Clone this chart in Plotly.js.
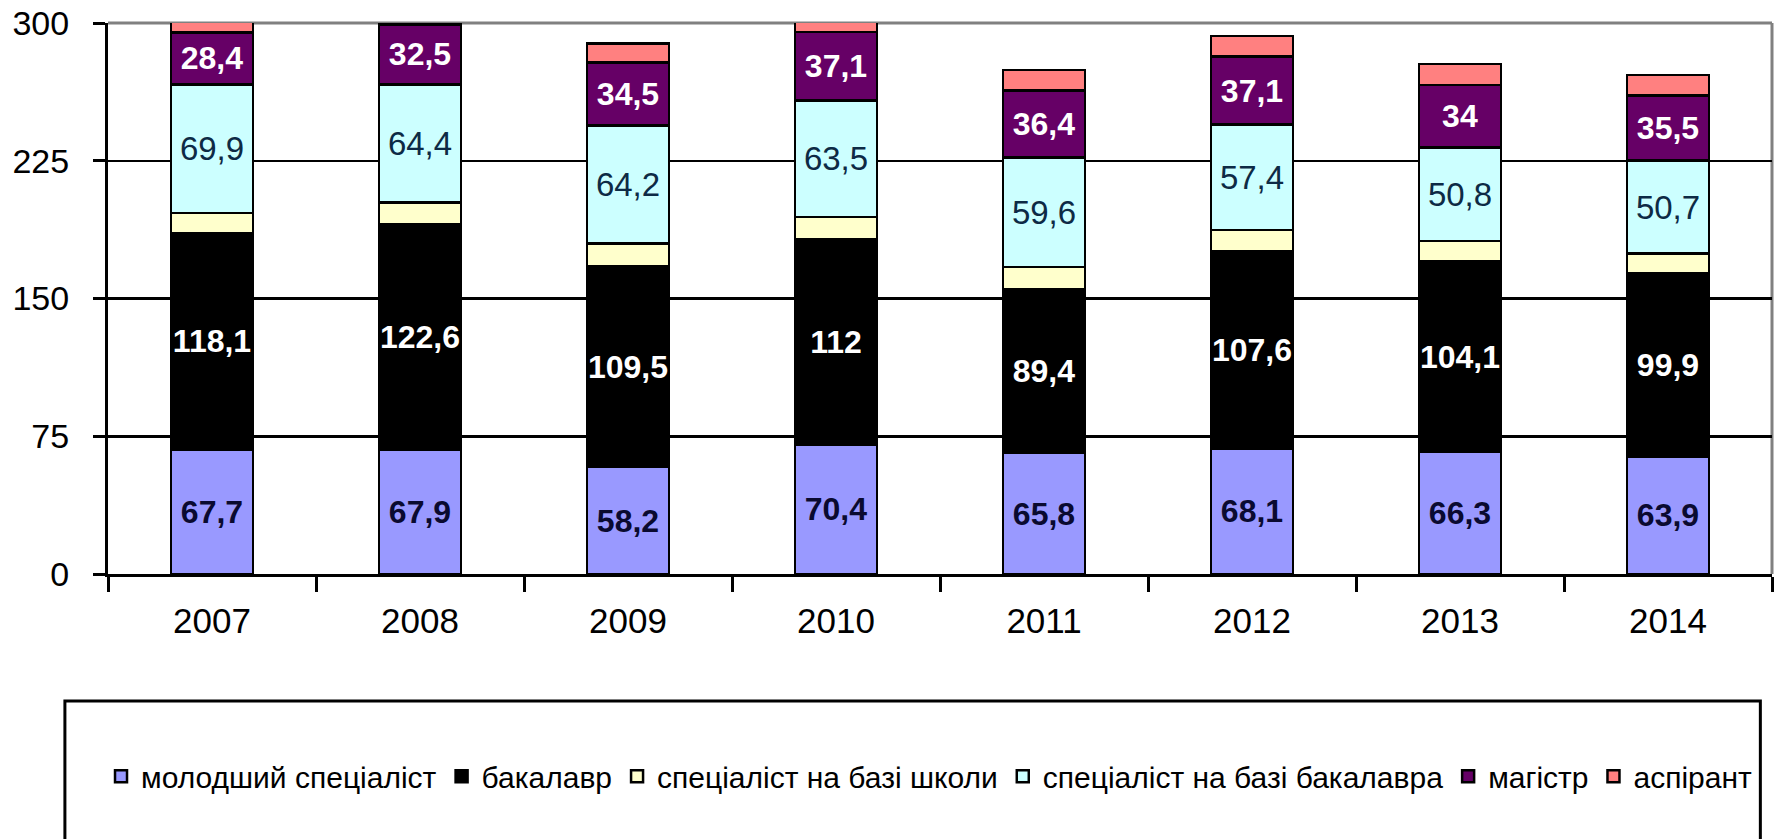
<!DOCTYPE html>
<html>
<head>
<meta charset="utf-8">
<script src="https://cdn.plot.ly/plotly-3.0.1.min.js"></script>
<style>html,body{margin:0;padding:0;background:#fff;}#chart{width:1781px;height:839px;}</style>
</head>
<body>
<div id="chart"></div>
<script>
const years = ['2007', '2008', '2009', '2010', '2011', '2012', '2013', '2014'];
const seriesNames = ['молодший спеціаліст', 'бакалавр', 'спеціаліст на базі школи', 'спеціаліст на базі бакалавра', 'магістр', 'аспірант'];
const molodshyi = [67.7, 67.9, 58.2, 70.4, 65.8, 68.1, 66.3, 63.9];
const bakalavr = [118.1, 122.6, 109.5, 112, 89.4, 107.6, 104.1, 99.9];
const shkoly = [10.8, 11.7, 12.2, 12.0, 12.0, 11.6, 11.0, 10.6];
const naBaziBakalavra = [69.9, 64.4, 64.2, 63.5, 59.6, 57.4, 50.8, 50.7];
const mahistr = [28.4, 32.5, 34.5, 37.1, 36.4, 37.1, 34, 35.5];
const aspirant = [10.5, 10.5, 10.3, 10.8, 11.2, 11.0, 11.6, 11.0];
const yTicks = [0, 75, 150, 225, 300];

const fmt = v => String(v).replace('.', ',');
const FONT = 'Liberation Sans, Arial, sans-serif';

function bar(name, vals, color, showText, textColor, bold) {
  return {
    type: 'bar', name: name, x: years, y: vals,
    marker: {color: color, line: {color: '#000', width: 2.5}},
    text: showText ? vals.map(fmt) : undefined,
    textposition: showText ? 'inside' : 'none',
    insidetextanchor: 'middle',
    textangle: 0,
    constraintext: 'none',
    textfont: {family: FONT, size: bold ? 32 : 33, color: textColor, weight: bold ? 'bold' : 'normal'},
    hoverinfo: 'x+y+name'
  };
}

const data = [
  bar(seriesNames[0], molodshyi, '#9999FF', true, '#0a0a30', true),
  bar(seriesNames[1], bakalavr, '#000000', true, '#ffffff', true),
  bar(seriesNames[2], shkoly, '#FFFFCC', false),
  bar(seriesNames[3], naBaziBakalavra, '#CCFFFF', true, '#0d2a45', false),
  bar(seriesNames[4], mahistr, '#660066', true, '#ffffff', true),
  bar(seriesNames[5], aspirant, '#FF8080', false)
];

const layout = {
  width: 1781, height: 839,
  margin: {l: 108, r: 9, t: 23, b: 265},
  barmode: 'stack',
  bargap: 0.605,
  paper_bgcolor: '#fff', plot_bgcolor: '#fff',
  font: {family: FONT, color: '#000'},
  showlegend: true,
  xaxis: {
    type: 'category',
    showline: true, linecolor: '#000', linewidth: 3,
    ticks: 'outside', tickson: 'boundaries', ticklen: 15, tickwidth: 3, tickcolor: '#000',
    showgrid: false,
    tickfont: {family: FONT, size: 35, color: '#000'},
    ticklabelstandoff: 14
  },
  yaxis: {
    range: [0, 300],
    tickvals: yTicks,
    showline: true, linecolor: '#000', linewidth: 3,
    ticks: 'outside', ticklen: 12, tickwidth: 3, tickcolor: '#000',
    showgrid: true, gridcolor: '#000', gridwidth: 2.5,
    zeroline: false,
    tickfont: {family: FONT, size: 34, color: '#000'},
    ticklabelstandoff: 17
  },
  legend: {
    orientation: 'h',
    x: 0.4934, xanchor: 'center',
    y: -0.367, yanchor: 'middle',
    font: {family: FONT, size: 30, color: '#000'},
    bgcolor: 'rgba(0,0,0,0)', borderwidth: 0,
    traceorder: 'normal',
    itemclick: false
  },
  shapes: [
    {type: 'line', xref: 'paper', yref: 'paper', x0: 0, x1: 1, y0: 1, y1: 1, line: {color: '#808080', width: 3}, layer: 'between'},
    {type: 'line', xref: 'paper', yref: 'paper', x0: 1, x1: 1, y0: 0, y1: 1, line: {color: '#808080', width: 3}, layer: 'between'},
    {type: 'rect', xref: 'paper', yref: 'paper', x0: -0.0259, x1: 0.993, y0: -0.2305, y1: -0.7, line: {color: '#000', width: 3}, fillcolor: 'rgba(0,0,0,0)'}
  ]
};

Plotly.newPlot('chart', data, layout, {displayModeBar: false, staticPlot: true});
</script>
</body>
</html>
